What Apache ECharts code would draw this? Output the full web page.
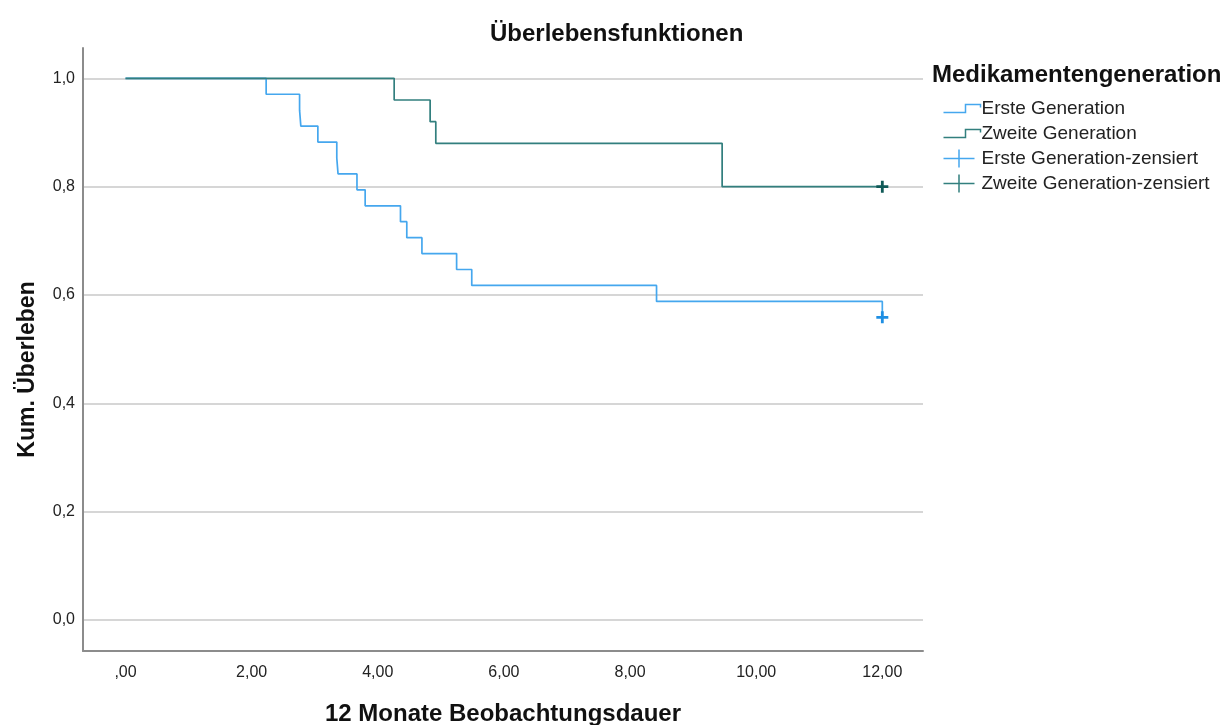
<!DOCTYPE html>
<html>
<head>
<meta charset="utf-8">
<script src="https://cdn.jsdelivr.net/npm/echarts@6/dist/echarts.min.js"></script>
<style>
html,body{margin:0;padding:0;background:#fff;}
#chart{width:1230px;height:725px;}
</style>
</head>
<body>
<div id="chart"></div>
<script>
// ---- data ----
const xTicks = [0, 2, 4, 6, 8, 10, 12];
const yTicks = [0, 0.2, 0.4, 0.6, 0.8, 1.0];

const ersteTime = [0, 2.23, 2.76, 2.78, 3.05, 3.35, 3.37, 3.67, 3.80, 4.36, 4.46, 4.70, 5.25, 5.49, 8.42, 12.0];
const ersteSurv = [1.0, 0.9706, 0.9412, 0.9118, 0.8824, 0.8529, 0.8235, 0.7941, 0.7647, 0.7353, 0.7059, 0.6765, 0.6471, 0.6176, 0.5882, 0.5588];

const zweiteTime = [0, 4.26, 4.83, 4.92, 9.46, 12.0];
const zweiteSurv = [1.0, 0.96, 0.92, 0.88, 0.80, 0.80];

const ersteCensTime = [12.0];
const ersteCensSurv = [0.5588];
const zweiteCensTime = [12.0];
const zweiteCensSurv = [0.80];

const seriesNames = ['Erste Generation', 'Zweite Generation', 'Erste Generation-zensiert', 'Zweite Generation-zensiert'];
const legendTitle = 'Medikamentengeneration';
const chartTitle = 'Überlebensfunktionen';
const xName = '12 Monate Beobachtungsdauer';
const yName = 'Kum. Überleben';

// ---- styling ----
const BLUE = '#45a7ee';
const TEAL = '#327f7e';
const BLUE_C = '#1f8fe3';
const TEAL_C = '#105a57';
const FONT = 'Liberation Sans, Arial, sans-serif';

const zip = (a, b) => a.map((v, i) => [v, b[i]]);
const plusPath = 'path://M4.6,0 H7.4 V4.6 H12 V7.4 H7.4 V12 H4.6 V7.4 H0 V4.6 H4.6 Z';
const stepIcon = 'path://M0,0 M0,18 M0,13 L22,13 L22,5 L37,5 L37,8';
const plusIcon = 'path://M0,9 L31,9 M15.5,0 L15.5,18 M37,0';

const xFmt = v => v === 0 ? ',00' : v.toFixed(2).replace('.', ',');
const yFmt = v => v.toFixed(1).replace('.', ',');

const chart = echarts.init(document.getElementById('chart'), null, {renderer: 'canvas'});
chart.setOption({
  backgroundColor: '#fff',
  animation: false,
  textStyle: {fontFamily: FONT},
  title: [
    {text: chartTitle, left: 485, top: 17,
     textStyle: {fontFamily: FONT, fontSize: 24, fontWeight: 'bold', color: '#111'}},
    {text: legendTitle, left: 927, top: 58,
     textStyle: {fontFamily: FONT, fontSize: 24, fontWeight: 'bold', color: '#111'}}
  ],
  legend: {
    orient: 'vertical',
    left: 936, top: 92,
    itemWidth: 37, itemHeight: 18,
    itemGap: 2,
    selectedMode: false,
    textStyle: {fontFamily: FONT, fontSize: 19, lineHeight: 20, color: '#222', padding: [0, 0, 0, -4]},
    data: [
      {name: seriesNames[0], icon: stepIcon, itemStyle: {color: 'none', borderColor: BLUE, borderWidth: 1.5}},
      {name: seriesNames[1], icon: stepIcon, itemStyle: {color: 'none', borderColor: TEAL, borderWidth: 1.5}},
      {name: seriesNames[2], icon: plusIcon, itemStyle: {color: 'none', borderColor: BLUE, borderWidth: 1.5}},
      {name: seriesNames[3], icon: plusIcon, itemStyle: {color: 'none', borderColor: TEAL, borderWidth: 1.5}}
    ]
  },
  grid: {left: 83, right: 307, top: 48, bottom: 74, containLabel: false, outerBoundsMode: 'none'},
  xAxis: {
    type: 'value',
    min: -0.674, max: 12.645,
    name: xName,
    nameLocation: 'middle',
    nameGap: 51,
    nameTextStyle: {fontFamily: FONT, fontSize: 24, fontWeight: 'bold', color: '#111'},
    axisLine: {show: true, onZero: false, lineStyle: {color: '#8c8c8c', width: 2}},
    axisTick: {show: false, customValues: xTicks},
    axisLabel: {customValues: xTicks, formatter: xFmt, fontFamily: FONT, fontSize: 16, color: '#222', margin: 14},
    splitLine: {show: false}
  },
  yAxis: {
    type: 'value',
    min: -0.0572, max: 1.056,
    name: yName,
    nameLocation: 'middle',
    nameGap: 44,
    nameRotate: 90,
    nameTextStyle: {fontFamily: FONT, fontSize: 23, fontWeight: 'bold', color: '#111', padding: [0, 40, 0, 0]},
    axisLine: {show: true, onZero: false, lineStyle: {color: '#8c8c8c', width: 2}},
    axisTick: {show: false, customValues: yTicks},
    axisLabel: {customValues: yTicks, formatter: yFmt, fontFamily: FONT, fontSize: 16, color: '#222', margin: 8},
    splitLine: {show: true, lineStyle: {color: '#c8c8c8', width: 1.5}}
  },
  series: [
    {name: seriesNames[0], type: 'line', step: 'end', data: zip(ersteTime, ersteSurv),
     showSymbol: false, symbol: 'none', lineStyle: {color: BLUE, width: 1.7}, itemStyle: {color: BLUE}, z: 3},
    {name: seriesNames[1], type: 'line', step: 'end', data: zip(zweiteTime, zweiteSurv),
     showSymbol: false, symbol: 'none', lineStyle: {color: TEAL, width: 1.7}, itemStyle: {color: TEAL}, z: 3},
    {name: seriesNames[2], type: 'scatter', data: zip(ersteCensTime, ersteCensSurv),
     symbol: plusPath, symbolSize: 12, itemStyle: {color: BLUE_C, opacity: 1}, z: 4},
    {name: seriesNames[3], type: 'scatter', data: zip(zweiteCensTime, zweiteCensSurv),
     symbol: plusPath, symbolSize: 12, itemStyle: {color: TEAL_C, opacity: 1}, z: 4}
  ]
});
</script>
</body>
</html>
